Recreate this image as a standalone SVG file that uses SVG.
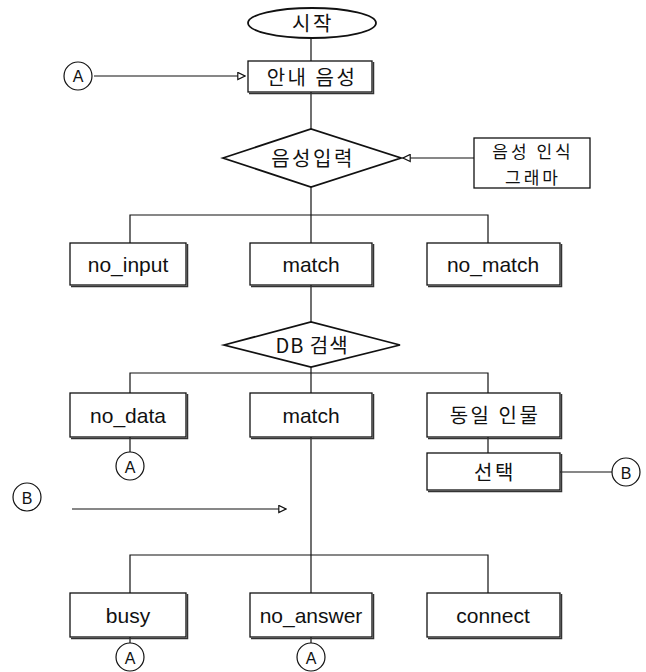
<svg xmlns="http://www.w3.org/2000/svg" width="646" height="672" viewBox="0 0 646 672">
<style>
.s{fill:#fff;stroke:#111;stroke-width:1.3}
.sh{fill:none;stroke:#333;stroke-width:1.5}
.t{font-family:"Liberation Sans","Noto Sans CJK KR",sans-serif;font-size:21px;fill:#111;text-anchor:middle;dominant-baseline:central}
.k{font-family:"Noto Sans CJK KR","Liberation Sans",sans-serif;font-size:20px;letter-spacing:2.5px;fill:#111;text-anchor:middle;dominant-baseline:central}
.g{font-family:"Noto Sans CJK KR","Liberation Sans",sans-serif;font-size:17px;letter-spacing:3px;fill:#111;text-anchor:middle;dominant-baseline:central}
.c{font-family:"Liberation Sans",sans-serif;font-size:16px;fill:#111;text-anchor:middle;dominant-baseline:central}
.l{fill:none;stroke:#111;stroke-width:1.2}
</style>
<defs>
<marker id="ar" viewBox="0 0 10 10" refX="9" refY="5" markerWidth="9" markerHeight="9" orient="auto" markerUnits="userSpaceOnUse">
<path d="M1,1 L9,5 L1,9 Z" fill="#fff" stroke="#111" stroke-width="1.3"/>
</marker>
</defs>
<g id="connectors">
<line class="l" x1="311" y1="38" x2="311" y2="61"/>
<line class="l" x1="94" y1="76" x2="245" y2="76" marker-end="url(#ar)"/>
<line class="l" x1="311" y1="92" x2="311" y2="129"/>
<line class="l" x1="474" y1="158" x2="403" y2="158" marker-end="url(#ar)"/>
<line class="l" x1="311" y1="187" x2="311" y2="215"/>
<polyline class="l" points="130,243 130,215 488,215 488,243"/>
<line class="l" x1="311" y1="215" x2="311" y2="243"/>
<line class="l" x1="311" y1="285" x2="311" y2="322"/>
<line class="l" x1="311" y1="367" x2="311" y2="373"/>
<polyline class="l" points="130,393 130,373 488,373 488,393"/>
<line class="l" x1="311" y1="373" x2="311" y2="393"/>
<line class="l" x1="130" y1="437" x2="130" y2="452"/>
<line class="l" x1="311" y1="437" x2="311" y2="555"/>
<line class="l" x1="488" y1="437" x2="488" y2="453"/>
<line class="l" x1="560" y1="472" x2="612" y2="472"/>
<line class="l" x1="72" y1="509" x2="286" y2="509" marker-end="url(#ar)"/>
<polyline class="l" points="130,593 130,555 488,555 488,593"/>
<line class="l" x1="311" y1="555" x2="311" y2="593"/>
<line class="l" x1="130" y1="637" x2="130" y2="643"/>
<line class="l" x1="311" y1="637" x2="311" y2="643"/>
</g>
<g id="start">
<ellipse cx="312" cy="23" rx="64" ry="15" fill="#fff" stroke="#111" stroke-width="1.8"/>
<text class="k" x="313" y="22">시작</text>
</g>
<g id="connA1">
<circle cx="78" cy="76" r="14" fill="#fff" stroke="#111" stroke-width="1.2"/>
<text class="c" x="78" y="76">A</text>
</g>
<g id="guide">
<rect class="s" x="248" y="61" width="124" height="31"/>
<polyline class="sh" points="249,93.5 373.5,93.5 373.5,62"/>
<text class="k" x="312" y="76">안내 음성</text>
</g>
<g id="input">
<polygon points="223,158 311,129 401,158 311,187" fill="#fff" stroke="#111" stroke-width="1.8"/>
<text class="k" x="313" y="157">음성입력</text>
</g>
<g id="grammar">
<rect class="s" x="474" y="138" width="116" height="50"/>
<text class="g" x="533" y="150">음성 인식</text>
<text class="g" x="533" y="176">그래마</text>
</g>
<g id="no_input">
<rect class="s" x="70" y="243" width="116" height="42"/>
<polyline class="sh" points="71,286.5 187.5,286.5 187.5,244"/>
<text class="t" x="128" y="264">no_input</text>
</g>
<g id="match1">
<rect class="s" x="250" y="243" width="122" height="42"/>
<polyline class="sh" points="251,286.5 373.5,286.5 373.5,244"/>
<text class="t" x="311" y="264">match</text>
</g>
<g id="no_match">
<rect class="s" x="427" y="243" width="133" height="42"/>
<polyline class="sh" points="428,286.5 561.5,286.5 561.5,244"/>
<text class="t" x="493" y="264">no_match</text>
</g>
<g id="db">
<polygon points="224,345 311,322 400,345 311,367" fill="#fff" stroke="#111" stroke-width="1.8"/>
<text class="k" x="312" y="344" style="letter-spacing:1px">DB 검색</text>
</g>
<g id="no_data">
<rect class="s" x="70" y="393" width="116" height="44"/>
<polyline class="sh" points="71,438.5 187.5,438.5 187.5,394"/>
<text class="t" x="128" y="415">no_data</text>
</g>
<g id="match2">
<rect class="s" x="250" y="393" width="122" height="44"/>
<polyline class="sh" points="251,438.5 373.5,438.5 373.5,394"/>
<text class="t" x="311" y="415">match</text>
</g>
<g id="same">
<rect class="s" x="427" y="393" width="133" height="44"/>
<polyline class="sh" points="428,438.5 561.5,438.5 561.5,394"/>
<text class="k" x="495" y="414">동일 인물</text>
</g>
<g id="connA2">
<circle cx="130" cy="466" r="14" fill="#fff" stroke="#111" stroke-width="1.2"/>
<text class="c" x="130" y="467">A</text>
</g>
<g id="select">
<rect class="s" x="427" y="453" width="133" height="37"/>
<polyline class="sh" points="428,491.5 561.5,491.5 561.5,454"/>
<text class="k" x="495" y="471">선택</text>
</g>
<g id="connB1">
<circle cx="626" cy="472" r="14" fill="#fff" stroke="#111" stroke-width="1.2"/>
<text class="c" x="626" y="473">B</text>
</g>
<g id="connB2">
<circle cx="27" cy="497" r="14" fill="#fff" stroke="#111" stroke-width="1.2"/>
<text class="c" x="27" y="498">B</text>
</g>
<g id="busy">
<rect class="s" x="70" y="593" width="116" height="44"/>
<polyline class="sh" points="71,638.5 187.5,638.5 187.5,594"/>
<text class="t" x="128" y="615">busy</text>
</g>
<g id="no_answer">
<rect class="s" x="250" y="593" width="122" height="44"/>
<polyline class="sh" points="251,638.5 373.5,638.5 373.5,594"/>
<text class="t" x="311" y="615">no_answer</text>
</g>
<g id="connect">
<rect class="s" x="427" y="593" width="133" height="44"/>
<polyline class="sh" points="428,638.5 561.5,638.5 561.5,594"/>
<text class="t" x="493" y="615">connect</text>
</g>
<g id="connA3">
<circle cx="130" cy="657" r="14" fill="#fff" stroke="#111" stroke-width="1.2"/>
<text class="c" x="130" y="658">A</text>
</g>
<g id="connA4">
<circle cx="311" cy="657" r="14" fill="#fff" stroke="#111" stroke-width="1.2"/>
<text class="c" x="311" y="658">A</text>
</g>
</svg>
